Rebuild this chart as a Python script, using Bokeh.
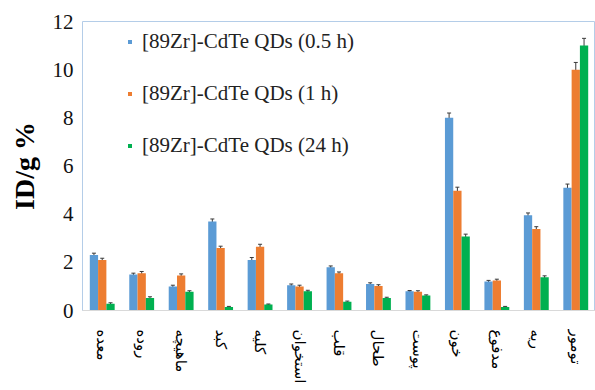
from bokeh.plotting import figure
from bokeh.models import ColumnDataSource, Legend, LegendItem, Whisker, FixedTicker, TeeHead, Range1d
from bokeh.transform import dodge
from bokeh.embed import file_html
from bokeh.resources import INLINE

categories = ["معده", "روده", "ماهیچه", "کبد", "کلیه", "استخوان", "قلب", "طحال", "پوست", "خون", "مدفوع", "ریه", "تومور"]
series_names = ["[89Zr]-CdTe QDs (0.5 h)", "[89Zr]-CdTe QDs (1 h)", "[89Zr]-CdTe QDs (24 h)"]
vals_05h = [2.3, 1.5, 1.0, 3.7, 2.1, 1.05, 1.8, 1.1, 0.8, 8.0, 1.2, 3.95, 5.1]
vals_1h = [2.1, 1.55, 1.45, 2.6, 2.65, 1.0, 1.55, 1.02, 0.78, 4.97, 1.25, 3.38, 10.0]
vals_24h = [0.28, 0.52, 0.78, 0.15, 0.25, 0.8, 0.36, 0.52, 0.62, 3.07, 0.15, 1.38, 11.0]
err_05h = [0.08, 0.05, 0.05, 0.1, 0.1, 0.05, 0.05, 0.05, 0.03, 0.2, 0.05, 0.1, 0.15]
err_1h = [0.07, 0.07, 0.07, 0.07, 0.1, 0.05, 0.05, 0.05, 0.04, 0.15, 0.05, 0.1, 0.3]
err_24h = [0.04, 0.05, 0.04, 0.02, 0.02, 0.04, 0.03, 0.03, 0.03, 0.1, 0.02, 0.06, 0.3]
y_ticks = [0, 2, 4, 6, 8, 10, 12]

colors = ["#5B9BD5", "#ED7D31", "#00B050"]
offsets = [-0.21, 0.0, 0.21]
bw = 0.21

p = figure(x_range=categories, width=595, height=390, output_backend="svg",
           toolbar_location=None, min_border_left=82, min_border_right=0,
           min_border_top=21, min_border_bottom=80)
p.y_range = Range1d(0, 12)
p.x_range.range_padding = 0
p.background_fill_color = "white"
p.border_fill_color = "white"
p.outline_line_color = "#B4CDE8"
p.outline_line_width = 1
p.xgrid.grid_line_color = None
p.ygrid.grid_line_color = None

items = []
for vals, errs, col, off, name in zip([vals_05h, vals_1h, vals_24h], [err_05h, err_1h, err_24h],
                                      colors, offsets, series_names):
    src = ColumnDataSource(dict(cat=categories, v=vals,
                                up=[a + b for a, b in zip(vals, errs)],
                                lo=[a - b for a, b in zip(vals, errs)]))
    r = p.vbar(x=dodge("cat", off, range=p.x_range), top="v", width=bw, source=src,
               fill_color=col, line_color=None)
    w = Whisker(base=dodge("cat", off, range=p.x_range), upper="up", lower="lo", source=src,
                line_color="#3a3a3a", line_width=1,
                upper_head=TeeHead(size=4, line_color="#3a3a3a", line_width=1),
                lower_head=TeeHead(size=4, line_color="#3a3a3a", line_width=1))
    p.add_layout(w)
    items.append(LegendItem(label=name, renderers=[r]))

legend = Legend(items=items, location=(45, 152), padding=0, margin=0,
                border_line_color=None, background_fill_alpha=0,
                glyph_width=5, glyph_height=5, label_standoff=10,
                label_height=26, spacing=26,
                label_text_font="Liberation Serif", label_text_font_size="21px",
                label_text_color="#222222")
p.add_layout(legend)

p.yaxis.ticker = FixedTicker(ticks=y_ticks)
p.yaxis.axis_line_color = None
p.yaxis.major_tick_line_color = None
p.yaxis.minor_tick_line_color = None
p.yaxis.major_tick_out = 0
p.yaxis.major_label_standoff = 9
p.yaxis.major_label_text_font = "Liberation Serif"
p.yaxis.major_label_text_font_size = "21px"
p.yaxis.major_label_text_color = "#111111"
p.yaxis.axis_label = "ID/g %"
p.yaxis.axis_label_text_font = "Liberation Serif"
p.yaxis.axis_label_text_font_style = "bold"
p.yaxis.axis_label_text_font_size = "28px"
p.yaxis.axis_label_text_color = "#000000"
p.yaxis.axis_label_standoff = 10

p.xaxis.axis_line_color = "#D9D9D9"
p.xaxis.major_tick_line_color = None
p.xaxis.minor_tick_line_color = None
p.xaxis.major_tick_out = 0
p.xaxis.major_label_standoff = 19
p.xaxis.major_label_orientation = "vertical"
p.xaxis.major_label_text_font = "DejaVu Sans"
p.xaxis.major_label_text_font_size = "15px"
p.xaxis.major_label_text_color = "#000000"

open("out.html", "w").write(file_html(p, INLINE))
